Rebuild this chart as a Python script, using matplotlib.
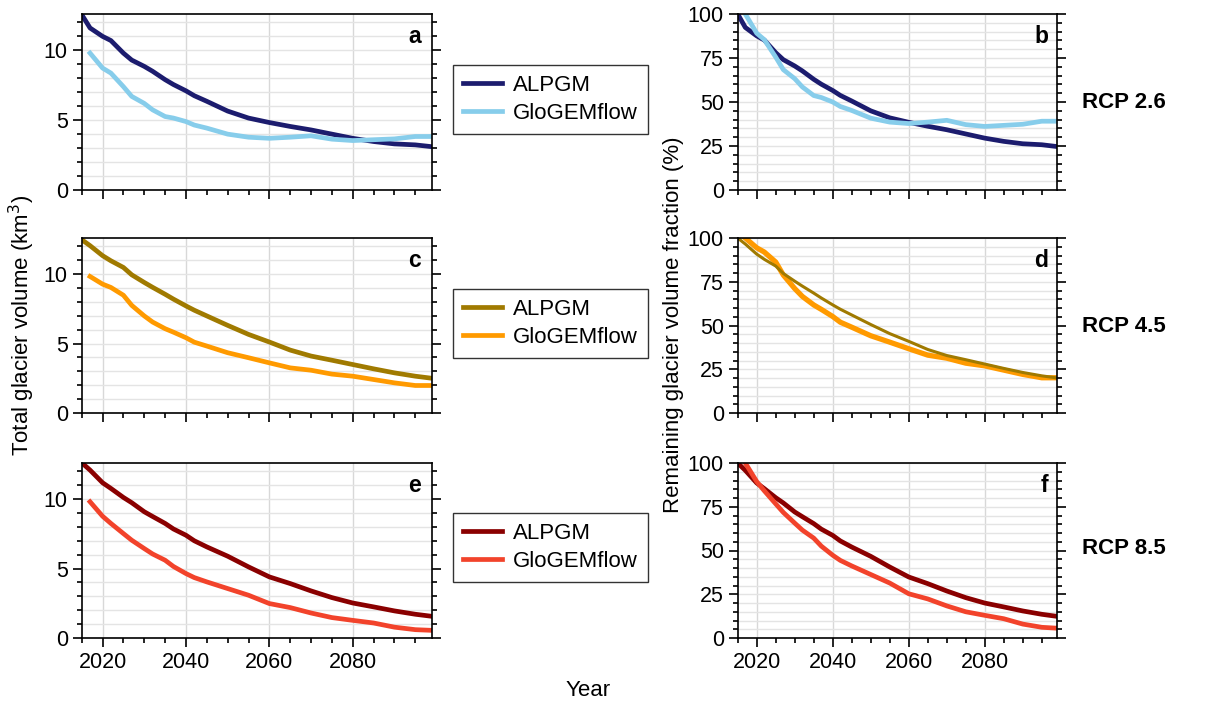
import numpy as np
import matplotlib
matplotlib.use('Agg')
import matplotlib.pyplot as plt
from matplotlib.ticker import MultipleLocator

plt.rcParams['font.family'] = ['Liberation Sans', 'DejaVu Sans']
plt.rcParams['font.size'] = 15

# Total glacier volume (km3)
alpgm_years = [2015, 2017, 2020, 2022, 2025, 2027, 2030, 2032, 2035, 2037, 2040, 2042, 2045,
               2050, 2055, 2060, 2065, 2070, 2075, 2080, 2085, 2090, 2095, 2099]
glogem_years = [2017, 2020, 2022, 2025, 2027, 2030, 2032, 2035, 2037, 2040, 2042, 2045,
                2050, 2055, 2060, 2065, 2070, 2075, 2080, 2085, 2090, 2095, 2099]

alpgm_26 = [12.56, 11.6, 11.0, 10.7, 9.8, 9.3, 8.85, 8.5, 7.9, 7.55, 7.1, 6.75, 6.35,
            5.65, 5.15, 4.83, 4.55, 4.3, 4.0, 3.7, 3.47, 3.3, 3.23, 3.1]
glogem_26 = [9.8, 8.73, 8.37, 7.4, 6.7, 6.2, 5.74, 5.26, 5.15, 4.9, 4.65, 4.43,
             4.0, 3.78, 3.7, 3.78, 3.88, 3.64, 3.54, 3.6, 3.66, 3.83, 3.83]

alpgm_45 = [12.48, 12.05, 11.33, 10.96, 10.48, 9.95, 9.4, 9.05, 8.55, 8.2, 7.71, 7.4, 6.99,
            6.31, 5.66, 5.11, 4.53, 4.1, 3.8, 3.49, 3.18, 2.89, 2.65, 2.5]
glogem_45 = [9.83, 9.28, 9.04, 8.48, 7.75, 6.99, 6.55, 6.07, 5.82, 5.42, 5.1, 4.82,
             4.34, 3.98, 3.61, 3.25, 3.08, 2.8, 2.65, 2.41, 2.17, 1.98, 1.98]

alpgm_85 = [12.62, 12.09, 11.18, 10.77, 10.12, 9.74, 9.09, 8.75, 8.25, 7.85, 7.4, 7.0, 6.56,
            5.89, 5.12, 4.4, 3.92, 3.39, 2.91, 2.52, 2.24, 1.95, 1.71, 1.56]
glogem_85 = [9.81, 8.77, 8.25, 7.52, 7.04, 6.44, 6.05, 5.6, 5.15, 4.64, 4.35, 4.04,
             3.56, 3.08, 2.48, 2.19, 1.8, 1.47, 1.27, 1.08, 0.78, 0.6, 0.55]

scenarios = ['RCP 2.6', 'RCP 4.5', 'RCP 8.5']
letters = [('a', 'b'), ('c', 'd'), ('e', 'f')]
alpgm_series = [alpgm_26, alpgm_45, alpgm_85]
glogem_series = [glogem_26, glogem_45, glogem_85]
colors = [('#1c1c6e', '#87cdeb'), ('#a07a00', '#ff9a00'), ('#8a0000', '#f2432b')]

W, H = 1232, 704
fig = plt.figure(figsize=(W / 100, H / 100), dpi=100)

rows = [(14, 190), (238, 413), (463, 638)]
legend_tops = [65, 289, 513]
rcp_y = [102, 326, 548]


def style_axis(ax, ymax, major, minor, show_x):
    ax.set_xlim(2015, 2099)
    ax.set_ylim(0, ymax)
    ax.xaxis.set_major_locator(MultipleLocator(20))
    ax.xaxis.set_minor_locator(MultipleLocator(5))
    ax.yaxis.set_major_locator(MultipleLocator(major))
    ax.yaxis.set_minor_locator(MultipleLocator(minor))
    ax.grid(True, axis='x', which='major', color='#d8d8d8', lw=1.0)
    ax.grid(True, axis='y', which='both', color='#e4e4e4', lw=1.0)
    ax.set_axisbelow(True)
    ax.tick_params(which='both', direction='out', right=True, top=False, width=1.2)
    ax.tick_params(which='major', length=6.5)
    ax.tick_params(which='minor', length=3.5)
    ax.tick_params(labelbottom=show_x, labelsize=15.5)
    for s in ax.spines.values():
        s.set_linewidth(1.2)


for i in range(3):
    top, bot = rows[i]
    a_vol = np.array(alpgm_series[i])
    g_vol = np.array(glogem_series[i])
    c_a, c_g = colors[i]
    show_x = i == 2

    # left: volume
    axl = fig.add_axes([81.7 / W, 1 - bot / H, (432 - 81.7) / W, (bot - top) / H])
    la, = axl.plot(alpgm_years, a_vol, color=c_a, lw=3.4)
    lg, = axl.plot(glogem_years, g_vol, color=c_g, lw=3.4)
    style_axis(axl, 12.6, 5, 1, show_x)
    axl.text(0.968, 0.87, letters[i][0], transform=axl.transAxes, ha='right', va='center',
             fontsize=16.5, fontweight='bold')

    # right: fraction of initial volume
    axr = fig.add_axes([737.7 / W, 1 - bot / H, (1057 - 737.7) / W, (bot - top) / H])
    if i == 1:
        axr.plot(glogem_years, g_vol / g_vol[0] * 100, color=c_g, lw=3.8)
        axr.plot(alpgm_years, a_vol / a_vol[0] * 100, color=c_a, lw=2.2)
    else:
        axr.plot(alpgm_years, a_vol / a_vol[0] * 100, color=c_a, lw=3.4)
        axr.plot(glogem_years, g_vol / g_vol[0] * 100, color=c_g, lw=3.4)
    style_axis(axr, 100, 25, 5, show_x)
    axr.text(0.973, 0.87, letters[i][1], transform=axr.transAxes, ha='right', va='center',
             fontsize=16.5, fontweight='bold')

    leg = fig.legend([la, lg], ['ALPGM', 'GloGEMflow'], loc='upper left',
                     bbox_to_anchor=(452.7 / W, 1 - legend_tops[i] / H), borderaxespad=0,
                     fancybox=False, edgecolor='#333333', framealpha=1, fontsize=16,
                     handlelength=1.75, borderpad=0.45, labelspacing=0.3, handletextpad=0.5)
    leg.get_frame().set_linewidth(1.0)

    fig.text(1081.7 / W, 1 - rcp_y[i] / H, scenarios[i], ha='left', va='center',
             fontsize=16, fontweight='bold')

fig.text(22 / W, 1 - 325 / H, 'Total glacier volume (km$^3$)', rotation=90,
         ha='center', va='center', fontsize=16)
fig.text(673 / W, 1 - 325 / H, 'Remaining glacier volume fraction (%)', rotation=90,
         ha='center', va='center', fontsize=16)
fig.text(588 / W, 1 - 690 / H, 'Year', ha='center', va='center', fontsize=16)

fig.savefig('out.png', dpi=100)
